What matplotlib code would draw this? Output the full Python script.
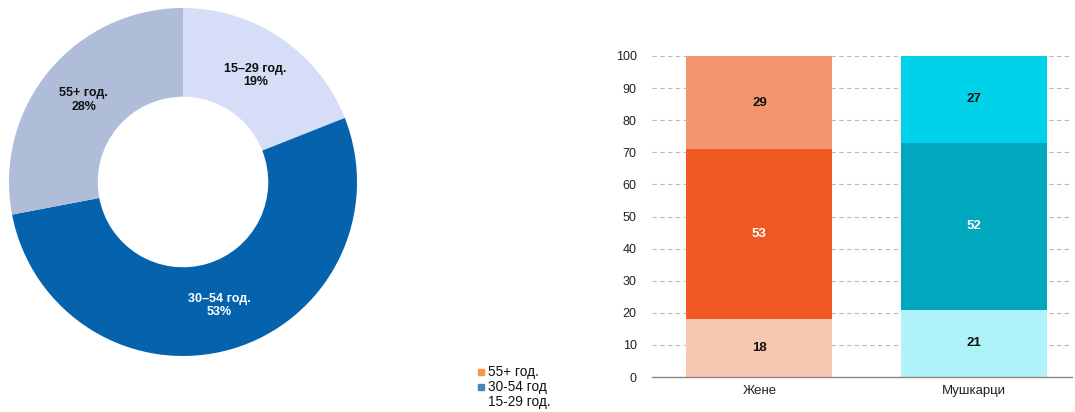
import matplotlib
matplotlib.use("Agg")
import matplotlib.pyplot as plt
from matplotlib.patches import Rectangle
import numpy as np

plt.rcParams['font.family'] = ['Liberation Sans', 'DejaVu Sans']

# Donut data
age_groups = ["15–29 год.", "30–54 год.", "55+ год."]
age_shares = [19, 53, 28]
donut_colors = ["#D6DDF6", "#0563AD", "#AFBDD9"]
donut_text_colors = ["#111111", "white", "#111111"]

# Stacked bar data
genders = ["Жене", "Мушкарци"]
share_15_29 = [18, 21]
share_30_54 = [53, 52]
share_55 = [29, 27]
women_colors = ["#F8C7AF", "#F05A22", "#F4956F"]
men_colors = ["#AFF2F9", "#00A7BD", "#00D3E9"]
yticks = list(range(0, 101, 10))

legend_labels = ["55+ год.", "30-54 год", "15-29 год."]
legend_colors = ["#F79646", "#4F81BD", None]

W, H = 1075, 412
fig = plt.figure(figsize=(W/100, H/100), dpi=100)

# ---- Donut ----
cx, cy, R = 183, 182, 174
axd = fig.add_axes([(cx-R)/W, (H-cy-R)/H, 2*R/W, 2*R/H])
wedges, _ = axd.pie(age_shares, colors=donut_colors, startangle=90, counterclock=False,
                    radius=1, wedgeprops=dict(width=0.51, linewidth=0))
axd.set_xlim(-1, 1); axd.set_ylim(-1, 1)
axd.set_aspect('equal')
for w, lab, v, tc in zip(wedges, age_groups, age_shares, donut_text_colors):
    ang = np.deg2rad((w.theta1 + w.theta2) / 2)
    r = 0.74
    axd.text(r*np.cos(ang), r*np.sin(ang), f"{lab}\n{v}%", ha='center', va='center',
             fontsize=9, fontweight='bold', color=tc, linespacing=1.15)

# ---- Stacked bars ----
left, right, top, bottom = 652, 1072, 56, 377
axb = fig.add_axes([left/W, (H-bottom)/H, (right-left)/W, (bottom-top)/H])
x = np.arange(len(genders))
bw = 0.68
layers = [share_15_29, share_30_54, share_55]
text_cols = ["#111111", "white", "#111111"]
base = np.zeros(len(genders))
for li, vals in enumerate(layers):
    cols = [women_colors[li], men_colors[li]]
    axb.bar(x, vals, bw, bottom=base, color=cols, linewidth=0, zorder=3)
    for xi, v, b in zip(x, vals, base):
        axb.text(xi, b + v/2, str(v), ha='center', va='center', fontsize=9.5,
                 fontweight='bold', color=text_cols[li], zorder=4)
    base = base + np.array(vals)

axb.set_xlim(-0.5, 1.455)
axb.set_ylim(0, 100)
axb.set_yticks(yticks)
axb.set_yticklabels([str(t) for t in yticks], fontsize=9, color="#222222")
axb.set_xticks(x)
axb.set_xticklabels(genders, fontsize=9.5, color="#222222")
axb.tick_params(axis='both', length=0, pad=6)
axb.tick_params(axis='y', pad=11)
axb.yaxis.grid(True, linestyle=(0, (4, 3)), color="#BBBBBB", linewidth=0.8, zorder=0)
axb.set_axisbelow(True)
for s in ['top', 'right', 'left']:
    axb.spines[s].set_visible(False)
axb.spines['bottom'].set_color("#888888")
axb.spines['bottom'].set_linewidth(1)
axb.spines['bottom'].set_zorder(5)

# ---- Legend (manual) ----
lx, ly0, dy = 478, 372, 15
for i, (lab, col) in enumerate(zip(legend_labels, legend_colors)):
    yy = ly0 + i*dy
    if col is not None:
        fig.patches.append(Rectangle(((lx)/W, (H-yy-3)/H), 6/W, 6/H,
                                     transform=fig.transFigure, color=col, figure=fig))
    fig.text((lx+10)/W, (H-yy)/H, lab, fontsize=9.8, va='center', ha='left', color="#111111")

fig.savefig("out.png", dpi=100)
